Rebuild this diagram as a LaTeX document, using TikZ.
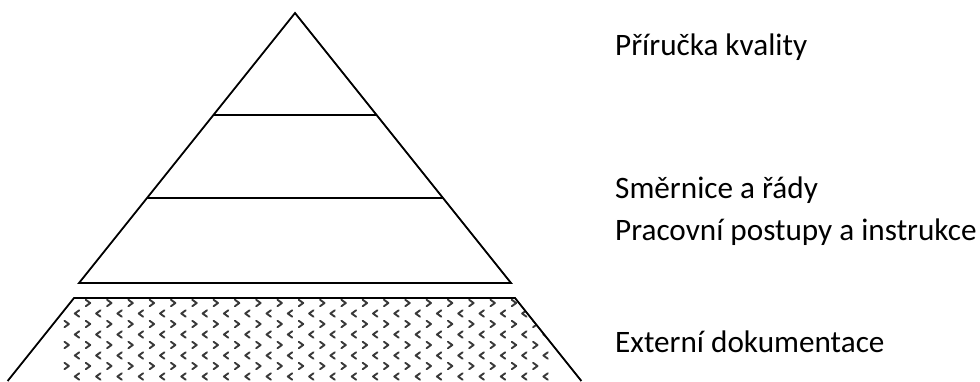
\documentclass[tikz,border=0pt]{standalone}
\usepackage{fontspec}
\setmainfont{Carlito}
\begin{document}
\begin{tikzpicture}[x=1pt,y=-1pt,
  edge/.style={line width=1.8pt,black},
  lbl/.style={anchor=base west,inner sep=0pt,font=\fontsize{31.2}{36}\selectfont},
  chev/.style={line width=1.9pt,gray!45!black,line cap=round,line join=round}]
\useasboundingbox (0,0) rectangle (980,381);
% triangle
\coordinate (apex) at (295,13);
\coordinate (bl) at (79,283);
\coordinate (br) at (511,283);
\coordinate (l1a) at (213.4,115);
\coordinate (l1b) at (376.6,115);
\coordinate (l2a) at (147.4,198);
\coordinate (l2b) at (442.6,198);
\draw[edge] (bl) -- (apex) -- (br) -- cycle;
\draw[edge] (l1a) -- (l1b);
\draw[edge] (l2a) -- (l2b);
% trapezoid
\coordinate (tl) at (74,298);
\coordinate (tr) at (515,298);
\coordinate (bbl) at (7.6,381);
\coordinate (bbr) at (581.4,381);
\begin{scope}
\clip (tl) -- (tr) -- (bbr) -- (bbl) -- cycle;
\foreach \j in {0,...,4}{
  \foreach \i in {0,...,22}{
    \pgfmathsetmacro{\gx}{88+21.3*\i-21.3}
    \pgfmathsetmacro{\gy}{303+21*\j}
    \draw[chev] (\gx-2.2,\gy-3.2) -- (\gx+2.2,\gy) -- (\gx-2.2,\gy+3.2);
    \pgfmathsetmacro{\hx}{77+21.3*\i}
    \pgfmathsetmacro{\hy}{313.5+21*\j}
    \draw[chev] (\hx+2.2,\hy-3.2) -- (\hx-2.2,\hy) -- (\hx+2.2,\hy+3.2);
  }
}
\end{scope}
\draw[edge] (bbl) -- (tl) -- (tr) -- (bbr);
% labels
\node[lbl] (t1) at (615,55) {Příručka kvality};
\node[lbl] (t2) at (615,198) {Směrnice a řády};
\node[lbl] (t3) at (615,240) {Pracovní postupy a instrukce};
\node[lbl] (t4) at (615,352) {Externí dokumentace};
\end{tikzpicture}
\end{document}
